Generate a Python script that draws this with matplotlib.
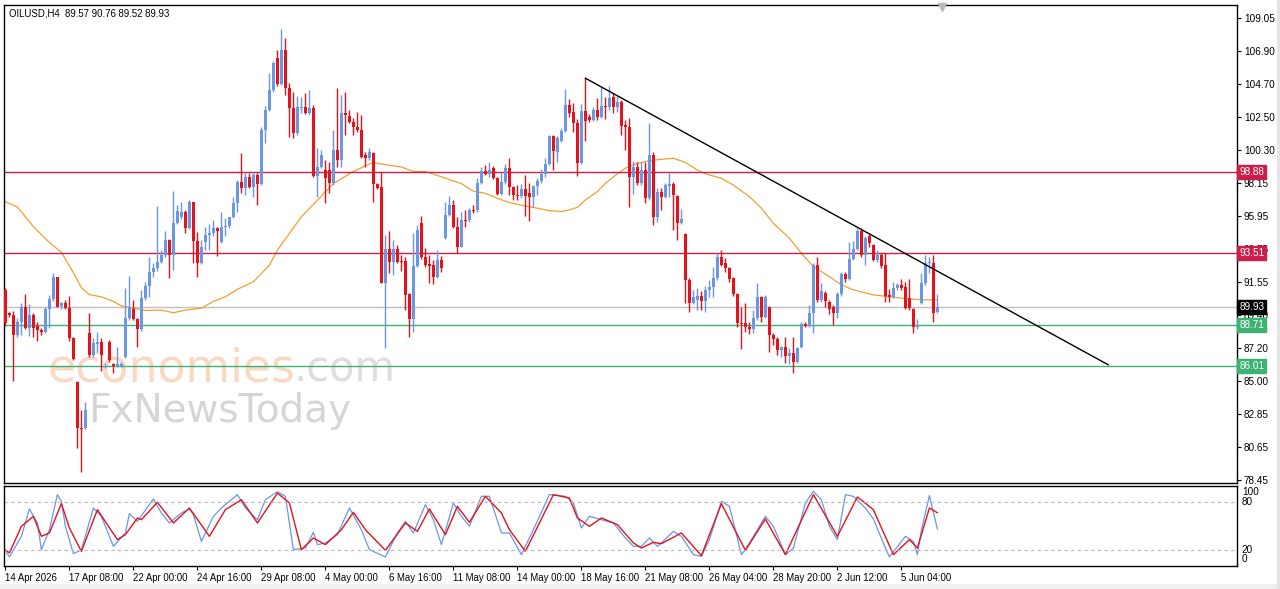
import numpy as np
import matplotlib
matplotlib.use("Agg")
import matplotlib.pyplot as plt
import matplotlib.transforms as mtransforms
import matplotlib.patches as patches

# ======================
# Data (OILUSD H4)
# ======================
opens = [91.06, 89.51, 89.40, 88.08, 88.96, 89.91, 88.52, 89.40, 88.67, 88.41,
         88.30, 89.78, 90.44, 91.90, 90.00, 90.18, 89.85, 87.86, 84.99, 81.90,
         81.90, 88.19, 86.75, 87.50, 87.64, 85.98, 87.64, 86.15, 86.05, 86.05,
         86.64, 89.18, 89.78, 89.12, 88.45, 90.51, 91.32, 92.23, 92.49, 92.94,
         93.38, 94.37, 93.38, 95.52, 95.92, 96.25, 95.14, 96.87, 94.33, 92.83,
         94.26, 94.70, 94.81, 95.14, 94.26, 95.21, 95.30, 95.92, 96.80, 98.23,
         97.79, 98.56, 97.90, 98.67, 98.08, 101.66, 102.98, 104.30, 106.40, 104.70,
         106.95, 104.41, 103.09, 101.43, 103.09, 103.16, 102.80, 103.09, 98.61, 99.23,
         99.01, 99.01, 98.17, 100.33, 99.67, 102.76, 102.58, 102.21, 101.83, 101.66,
         100.00, 99.78, 100.15, 98.08, 97.90, 91.50, 93.75, 92.94, 93.75, 92.94,
         93.00, 90.79, 89.12, 92.65, 95.47, 93.22, 92.78, 92.72, 91.94, 93.05,
         94.48, 96.03, 96.69, 95.25, 93.93, 95.69, 95.69, 96.36, 96.36, 98.17,
         98.96, 98.74, 99.12, 98.45, 97.42, 98.23, 99.12, 97.86, 97.35, 97.28,
         97.73, 97.50, 97.24, 97.95, 98.30, 98.74, 99.40, 101.26, 100.22, 100.95,
         101.61, 103.31, 102.87, 102.14, 99.49, 102.94, 102.50, 102.32, 102.98, 102.54,
         103.24, 103.16, 103.86, 103.16, 103.53, 101.99, 101.88, 98.56, 99.23, 98.12,
         99.01, 97.13, 100.00, 95.92, 97.57, 97.24, 97.95, 98.08, 97.28, 95.52,
         94.77, 91.72, 90.22, 90.40, 90.66, 90.35, 91.06, 91.28, 91.83, 93.27,
         92.83, 92.49, 91.83, 90.79, 88.89, 88.85, 88.63, 88.45, 89.18, 90.62,
         89.29, 89.91, 88.08, 87.79, 87.09, 87.27, 86.69, 86.86, 86.31, 87.31,
         88.81, 88.67, 89.56, 92.72, 90.40, 90.88, 90.29, 89.91, 89.56, 90.79,
         92.12, 91.76, 93.09, 93.75, 94.99, 93.38, 94.63, 94.04, 93.05, 93.38,
         92.72, 90.73, 90.57, 91.17, 91.39, 91.28, 90.51, 89.78, 88.59, 90.18,
         91.50, 92.83, 92.83, 89.57]
highs = [91.20, 89.62, 89.69, 89.18, 90.22, 90.79, 90.13, 89.56, 88.96, 88.52,
         89.91, 90.73, 92.21, 91.94, 90.29, 90.40, 90.66, 87.93, 85.05, 83.11,
         83.66, 89.51, 87.86, 88.30, 87.86, 86.20, 87.75, 86.20, 87.31, 86.31,
         91.17, 91.99, 90.40, 89.18, 91.06, 91.61, 93.22, 92.83, 96.62, 93.71,
         94.99, 94.41, 97.64, 96.69, 96.91, 96.36, 97.02, 96.91, 94.91, 94.37,
         95.21, 95.45, 95.69, 95.21, 96.25, 95.81, 95.92, 97.24, 98.34, 100.11,
         98.78, 98.78, 98.90, 98.83, 101.88, 103.25, 105.41, 106.25, 106.95, 108.32,
         107.73, 104.74, 104.19, 103.91, 103.82, 104.13, 104.30, 103.31, 100.44, 100.33,
         99.67, 99.56, 101.66, 104.41, 103.97, 104.19, 102.98, 102.43, 102.87, 102.65,
         100.22, 100.44, 100.22, 98.12, 98.90, 94.70, 94.99, 94.37, 94.04, 93.38,
         93.22, 90.84, 94.85, 95.36, 95.96, 93.82, 93.38, 93.05, 93.67, 93.31,
         96.91, 97.28, 97.02, 95.92, 96.25, 96.36, 96.47, 96.69, 98.45, 99.23,
         99.34, 99.56, 99.27, 98.56, 98.90, 99.40, 99.78, 97.95, 98.01, 98.08,
         98.67, 98.12, 98.01, 98.45, 99.05, 99.78, 101.32, 101.32, 101.26, 101.77,
         104.35, 103.69, 103.47, 102.36, 103.38, 105.08, 102.72, 103.20, 103.75, 104.52,
         103.82, 104.57, 104.13, 103.91, 103.64, 102.32, 102.43, 99.62, 99.56, 99.56,
         99.56, 102.14, 100.22, 97.79, 97.79, 98.12, 98.83, 98.23, 97.35, 96.40,
         94.81, 91.83, 91.06, 91.17, 91.00, 91.32, 91.72, 92.60, 93.49, 93.71,
         93.16, 92.60, 91.94, 90.88, 89.91, 90.18, 88.96, 89.73, 91.50, 90.66,
         90.73, 90.00, 88.19, 87.97, 87.35, 87.97, 87.20, 87.97, 87.31, 88.96,
         88.96, 90.07, 92.83, 93.22, 91.50, 91.02, 90.40, 90.07, 90.95, 92.27,
         92.27, 94.26, 94.33, 95.14, 95.14, 94.63, 94.77, 94.11, 93.71, 93.49,
         93.49, 91.10, 91.61, 91.54, 91.76, 91.61, 91.76, 89.85, 89.12, 92.16,
         93.38, 93.22, 93.38, 90.76]
lows = [88.70, 89.29, 85.05, 87.97, 88.08, 88.45, 88.01, 87.97, 87.70, 88.08,
        88.19, 88.52, 90.35, 89.91, 89.82, 89.78, 87.70, 86.42, 80.57, 79.03,
        81.83, 86.64, 86.64, 86.86, 85.72, 85.90, 86.31, 85.54, 85.98, 85.98,
        86.53, 89.07, 89.07, 87.31, 88.37, 90.40, 90.57, 91.94, 92.34, 92.83,
        93.27, 91.83, 92.38, 95.43, 95.74, 94.81, 95.08, 92.83, 91.94, 92.78,
        93.71, 93.71, 94.63, 93.31, 94.19, 94.63, 95.14, 95.81, 96.25, 97.46,
        97.35, 97.79, 97.24, 96.69, 98.01, 100.77, 102.94, 104.19, 104.57, 104.63,
        103.97, 101.17, 101.10, 101.32, 102.80, 102.71, 102.65, 98.56, 97.24, 99.12,
        96.80, 97.46, 98.01, 99.23, 99.18, 101.32, 102.10, 101.32, 101.54, 99.78,
        99.23, 99.67, 96.91, 97.72, 91.50, 87.20, 92.16, 92.05, 92.83, 92.34,
        89.73, 87.93, 88.30, 92.56, 93.09, 92.56, 91.50, 91.46, 91.83, 92.27,
        94.41, 95.96, 95.14, 93.49, 93.89, 95.25, 95.58, 96.14, 96.25, 98.08,
        98.67, 98.56, 98.39, 97.35, 97.35, 98.08, 97.35, 97.02, 97.02, 97.13,
        95.96, 95.65, 96.58, 97.35, 98.12, 98.56, 99.34, 99.01, 99.56, 100.88,
        101.54, 102.54, 101.54, 98.61, 99.40, 100.95, 102.21, 102.27, 102.32, 102.43,
        102.36, 102.98, 102.80, 102.87, 101.32, 100.33, 96.58, 97.42, 98.01, 98.01,
        96.84, 97.02, 95.36, 95.58, 96.36, 97.13, 97.24, 95.03, 94.37, 95.43,
        90.22, 89.62, 90.13, 89.73, 89.73, 89.62, 90.62, 90.62, 91.72, 92.65,
        92.27, 91.61, 90.66, 88.63, 87.13, 88.30, 88.12, 88.19, 89.07, 88.96,
        89.18, 86.97, 87.42, 86.75, 86.64, 86.20, 86.16, 85.54, 86.20, 87.20,
        88.63, 88.59, 88.19, 90.29, 90.29, 89.91, 89.47, 88.74, 89.18, 90.66,
        91.61, 91.72, 93.05, 93.67, 93.27, 92.72, 93.93, 93.00, 92.94, 92.49,
        90.29, 90.29, 90.51, 91.06, 91.06, 89.78, 89.73, 88.19, 88.45, 90.13,
        91.39, 92.16, 88.96, 89.52]
closes = [88.85, 89.40, 88.08, 88.96, 89.91, 88.52, 89.40, 88.52, 88.41, 88.30,
          89.78, 90.44, 91.90, 89.96, 90.18, 89.85, 87.86, 86.47, 81.90, 81.85,
          83.11, 86.75, 87.53, 87.64, 86.75, 86.05, 86.42, 86.05, 86.15, 86.12,
          89.18, 89.96, 89.12, 88.45, 90.51, 91.32, 92.23, 92.49, 92.94, 93.38,
          94.37, 93.38, 95.52, 96.27, 96.25, 95.14, 96.91, 94.33, 92.83, 93.89,
          94.70, 94.81, 95.14, 94.97, 95.21, 95.30, 95.92, 96.80, 98.23, 97.79,
          98.56, 97.90, 98.67, 98.08, 101.66, 102.98, 104.30, 106.11, 104.70, 106.95,
          104.41, 103.09, 101.43, 103.16, 103.16, 102.80, 103.09, 98.61, 99.23, 100.00,
          98.45, 98.17, 100.33, 99.67, 102.76, 102.65, 102.21, 101.83, 101.66, 99.89,
          99.78, 100.22, 98.08, 97.79, 91.50, 93.75, 92.94, 93.75, 92.94, 92.90,
          90.73, 89.12, 92.65, 95.03, 93.22, 92.72, 92.65, 91.94, 93.05, 92.49,
          96.03, 96.69, 95.25, 93.93, 95.69, 95.65, 96.36, 96.31, 98.17, 98.96,
          98.74, 99.01, 98.45, 97.42, 98.23, 99.12, 97.86, 97.35, 97.28, 97.73,
          97.28, 97.24, 97.95, 98.30, 98.74, 99.40, 101.26, 100.29, 101.10, 101.61,
          103.31, 102.80, 102.14, 99.49, 102.94, 102.27, 102.32, 102.98, 102.54, 103.24,
          103.16, 103.75, 103.16, 103.53, 101.92, 101.88, 98.56, 99.23, 98.12, 99.01,
          97.13, 100.00, 95.92, 97.57, 97.24, 98.01, 98.08, 97.35, 95.52, 95.74,
          91.72, 90.18, 90.57, 90.66, 90.35, 91.06, 91.28, 91.83, 93.27, 92.72,
          92.49, 91.76, 90.79, 88.89, 88.81, 88.63, 88.45, 89.18, 90.62, 89.29,
          90.62, 88.08, 87.79, 87.09, 87.27, 86.69, 86.86, 86.31, 87.20, 88.81,
          88.67, 89.56, 92.72, 90.40, 91.02, 90.35, 89.78, 89.56, 90.79, 92.12,
          91.76, 93.09, 93.75, 94.99, 93.38, 94.48, 94.19, 93.05, 93.38, 92.65,
          90.66, 90.57, 91.17, 91.39, 91.17, 89.85, 89.85, 88.59, 88.74, 91.50,
          92.83, 92.94, 89.56, 89.93]

# moving average (orange), read at knots
ma_bars = [0, 3, 7, 11, 14, 17, 19, 21, 24, 27, 29, 32, 35, 39, 42, 45, 49, 52, 55, 58,
           62, 66, 68, 71, 74, 78, 82, 87, 91, 92, 95, 99, 102, 105, 109, 114, 117, 120,
           123, 126, 130, 133, 136, 139, 141, 143, 145, 148, 150, 153, 155, 158, 161, 164,
           167, 170, 173, 175, 179, 182, 186, 189, 192, 196, 199, 202, 206, 209, 212, 217,
           222, 227, 230, 233]
ma_vals = [96.9, 96.55, 95.25, 94.2, 93.55, 92.2, 91.2, 90.75, 90.6, 90.3, 90.0, 89.85,
           89.7, 89.72, 89.55, 89.72, 89.85, 90.3, 90.6, 91.1, 91.6, 92.7, 93.7, 94.8,
           95.9, 97.0, 98.1, 98.9, 99.4, 99.5, 99.35, 99.2, 98.9, 98.9, 98.55, 98.1, 97.6,
           97.45, 97.13, 96.84, 96.62, 96.47, 96.31, 96.25, 96.36, 96.53, 97.02, 97.57,
           98.12, 98.74, 99.12, 99.45, 99.62, 99.71, 99.78, 99.5, 99.0, 98.75, 98.45, 98.0,
           97.24, 96.47, 95.47, 94.48, 93.49, 92.6, 91.94, 91.39, 91.06, 90.73, 90.57,
           90.44, 90.40, 90.40]

# stochastic (5,3,3)
sto_main_bars = [0, 1, 4, 6, 8, 9, 11, 13, 14, 15, 17, 19, 22, 24, 27, 30, 31, 33, 37, 39,
                 41, 44, 46, 47, 49, 52, 54, 58, 60, 63, 65, 68, 70, 72, 75, 77, 78, 80, 83,
                 86, 89, 91, 95, 98, 100, 102, 105, 107, 109, 112, 114, 116, 119, 121, 124,
                 126, 129, 132, 136, 140, 142, 144, 146, 149, 152, 155, 157, 159, 161, 163,
                 164, 167, 169, 172, 174, 176, 179, 181, 184, 185, 190, 192, 195, 197, 200,
                 202, 204, 206, 208, 210, 212, 215, 217, 220, 221, 225, 227, 228, 229, 231,
                 233]
sto_main_vals = [19.6, 11.3, 37.1, 71.3, 53.8, 20.4, 45.4, 89.2, 80.8, 49.6, 15.4, 20.4,
                 72.5, 62.1, 24.6, 41.3, 65.4, 55.8, 83.8, 66.3, 53.8, 66.3, 71.3, 64.2,
                 30.8, 62.1, 72.5, 89.2, 72.5, 57.9, 82.9, 92.9, 87.1, 20.4, 22.5, 42.1,
                 26.7, 28.8, 39.2, 72.5, 45.4, 20.4, 11.3, 41.3, 55.8, 41.3, 76.7, 57.9,
                 26.7, 78.8, 62.1, 49.6, 87.1, 87.1, 41.3, 41.3, 14.2, 45.4, 89.2, 87.1,
                 78.8, 47.5, 62.1, 57.9, 53.8, 35.0, 24.6, 24.6, 35.0, 24.6, 28.8, 43.3,
                 37.1, 14.2, 12.1, 32.9, 80.8, 74.6, 14.2, 20.4, 62.1, 49.6, 14.2, 22.5,
                 78.8, 93.3, 82.9, 49.6, 32.9, 89.2, 87.1, 72.5, 58.8, 22.5, 11.3, 37.1,
                 30.8, 14.2, 45.0, 88.0, 46.1]
sto_sig_bars = [0, 1, 4, 7, 9, 11, 14, 16, 19, 23, 28, 30, 33, 34, 38, 42, 46, 51, 55, 59,
                63, 68, 71, 74, 77, 80, 84, 87, 90, 95, 100, 103, 106, 110, 113, 116, 120,
                124, 126, 130, 137, 141, 143, 146, 149, 153, 157, 159, 162, 164, 169, 174,
                179, 185, 190, 195, 202, 208, 213, 217, 222, 226, 228, 231, 233]
sto_sig_vals = [20.4, 16.3, 49.6, 62.1, 37.1, 41.3, 77.9, 47.5, 18.3, 70.4, 32.9, 39.2,
                60.0, 57.9, 79.6, 53.8, 72.5, 37.1, 70.4, 82.9, 53.8, 91.2, 78.8, 20.4,
                35.0, 26.7, 45.4, 67.1, 45.4, 19.6, 53.8, 43.3, 71.3, 39.2, 74.6, 54.6,
                87.1, 66.3, 45.4, 18.3, 89.2, 85.0, 60.0, 49.6, 60.0, 51.7, 28.8, 22.5,
                29.6, 27.9, 41.3, 12.9, 77.9, 19.6, 58.8, 14.2, 89.2, 37.1, 86.3, 70.4,
                14.2, 32.9, 22.5, 72.5, 66.6]

levels_red = [98.88, 93.51]
levels_green = [88.71, 86.01]
last_price = 89.93

trend_bars = [145, 275.7]
trend_prices = [105.08, 86.10]

price_ticks = [109.05, 106.90, 104.70, 102.50, 100.30, 98.15, 95.95, 93.75,
               91.55, 89.40, 87.20, 85.00, 82.85, 80.65, 78.45]
date_labels = ["14 Apr 2026", "17 Apr 08:00", "22 Apr 00:00", "24 Apr 16:00",
               "29 Apr 08:00", "4 May 00:00", "6 May 16:00", "11 May 08:00",
               "14 May 00:00", "18 May 16:00", "21 May 08:00", "26 May 04:00",
               "28 May 20:00", "2 Jun 12:00", "5 Jun 04:00"]
date_bars = [16 * k for k in range(len(date_labels))]

# ======================
# Colours
# ======================
BULL = "#6A96E8"
BEAR = "#E3121B"
RED_LVL = "#CC1E4A"
GREEN_LVL = "#3CB371"
plt.rcParams["font.family"] = ["Liberation Sans", "DejaVu Sans"]

W, H = 1280, 589
fig = plt.figure(figsize=(W / 100, H / 100), dpi=100)
fig.patch.set_facecolor("white")


def box(x0, y0, x1, y1):
    return [x0 / W, 1 - y1 / H, (x1 - x0) / W, (y1 - y0) / H]


# light grey window frame (bottom and right)
fig.patches.append(patches.Rectangle((0, 0), 1, 5 / H, transform=fig.transFigure,
                                     fc="#F0F0F0", ec="none", zorder=0))
fig.patches.append(patches.Rectangle((1 - 3 / W, 0), 3 / W, 1, transform=fig.transFigure,
                                     fc="#E4E4E4", ec="none", zorder=0))

ax = fig.add_axes(box(4, 5, 1237, 483))
sx = fig.add_axes(box(4, 486, 1237, 566))

XL = (-0.35, 307.9)

# ======================
# Candles
# ======================
o = np.array(opens); h = np.array(highs); l = np.array(lows); c = np.array(closes)
idx = np.arange(len(c))
up = c > o
cols = np.where(up, BULL, BEAR)
ax.vlines(idx, l, h, colors=cols, lw=1.0, zorder=3)
ax.bar(idx, np.maximum(np.abs(c - o), 0.07), bottom=np.minimum(o, c), width=0.74,
       color=cols, linewidth=0, zorder=3)

ax.plot(ma_bars, ma_vals, color="#F0A030", lw=0.9, zorder=2)

for lv in levels_red:
    ax.axhline(lv, color=RED_LVL, lw=1.0, zorder=2)
for lv in levels_green:
    ax.axhline(lv, color=GREEN_LVL, lw=1.0, zorder=2)
ax.axhline(last_price, color="#C0C0C0", lw=1.0, zorder=1.5)

ax.plot(trend_bars, trend_prices, color="black", lw=1.0, zorder=4)

ax.set_xlim(*XL)
ax.set_ylim(78.27, 109.93)
ax.set_xticks([])
ax.yaxis.tick_right()
ax.set_yticks(price_ticks)
ax.set_yticklabels(["%.2f" % v for v in price_ticks])
ax.tick_params(axis="y", direction="out", length=3, width=0.8, labelsize=7.2, pad=2,
               colors="black")
for s in ax.spines.values():
    s.set_linewidth(1.0)

# right-hand price boxes
tr = mtransforms.blended_transform_factory(ax.transAxes, ax.transData)
price_boxes = [(levels_red[0], RED_LVL), (levels_red[1], RED_LVL), (last_price, "black"),
               (levels_green[0], GREEN_LVL), (levels_green[1], GREEN_LVL)]
for val, col in price_boxes:
    ax.text(1.0018, val, "%.2f" % val, transform=tr, ha="left", va="center",
            fontsize=7.2, color="white", zorder=6, clip_on=False,
            bbox=dict(boxstyle="square,pad=0.2", fc=col, ec=col))

# chart shift marker
ax.plot([len(c) + 0.2], [0.995], marker="v", ms=6, color="#B8B8B8",
        transform=mtransforms.blended_transform_factory(ax.transData, ax.transAxes),
        clip_on=False, zorder=6)

fig.text(9 / W, 1 - 13 / H, "OILUSD,H4  89.57 90.76 89.52 89.93", fontsize=6.9,
         va="center", ha="left")

# watermark
fig.text(48 / W, 1 - 382 / H, "economies", fontsize=33, color="#F7BE98",
         alpha=0.6, family="DejaVu Sans", va="baseline", zorder=0)
fig.text(293 / W, 1 - 382 / H, ".com", fontsize=30, color="#D0D0D0",
         alpha=0.7, family="DejaVu Sans", va="baseline", zorder=0)
fig.text(88 / W, 1 - 422 / H, "FxNewsToday", fontsize=28, color="#C8C8C8",
         alpha=0.75, family="DejaVu Sans", va="baseline", zorder=0)
ax.set_facecolor("none")
ax.set_zorder(2)

# ======================
# Stochastic panel
# ======================
sx.plot(sto_main_bars, sto_main_vals, color="#6A96E8", lw=0.9)
sx.plot(sto_sig_bars, sto_sig_vals, color="#E3121B", lw=1.0)
for lv in (80, 20):
    sx.axhline(lv, color="#B8B8B8", lw=0.8, ls=(0, (3, 3)))
sx.set_xlim(*XL)
sx.set_ylim(0, 100)
sx.set_yticks([])
trs = mtransforms.blended_transform_factory(sx.transAxes, sx.transData)
for val, txt in [(92.5, "100"), (80, "80"), (20, "20"), (8.5, "0")]:
    sx.text(1.004, val, txt, transform=trs, ha="left", va="center", fontsize=7.2,
            clip_on=False)
sx.text(0.003, 91, "Sto(5,3,3) 46.1115 66.6060", transform=sx.transAxes, fontsize=7.2,
        va="center", ha="left")
sx.set_xticks(date_bars)
sx.set_xticklabels(date_labels)
for lab in sx.get_xticklabels():
    lab.set_ha("left")
sx.tick_params(axis="x", direction="out", length=3, width=0.8, labelsize=6.9, pad=2)
for s in sx.spines.values():
    s.set_linewidth(1.0)

fig.savefig("out.png", dpi=100, facecolor="white")
